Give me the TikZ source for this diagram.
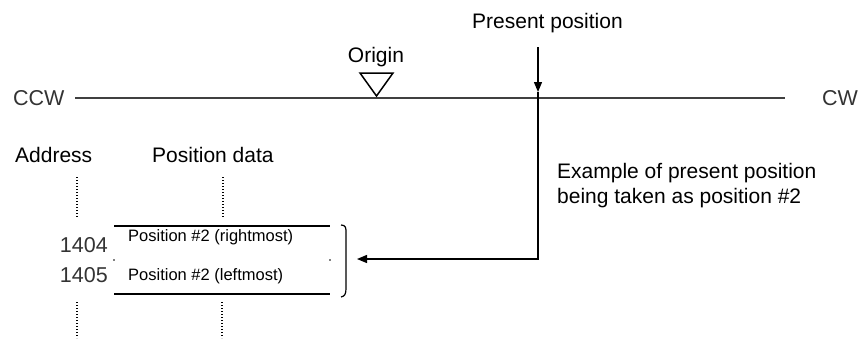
\documentclass[tikz,border=0pt]{standalone}
\usepackage{fontspec}
\setmainfont{Liberation Sans}
\usetikzlibrary{arrows.meta}
\begin{document}
\begin{tikzpicture}[x=1pt,y=-1pt,
  lbl/.style={inner sep=0pt, font=\fontsize{21}{25}\selectfont},
  thinlbl/.style={inner sep=0pt, font=\fontsize{21.5}{25}\selectfont, text=black!80},
  smalllbl/.style={inner sep=0pt, font=\fontsize{16.5}{20}\selectfont},
  axis/.style={line width=1.2pt, draw=black!75},
  tablerule/.style={line width=1.4pt},
  dotline/.style={line width=2pt, dash pattern=on 1.4pt off 1.6pt},
  conn/.style={line width=1.3pt},
  tip/.style={-{Triangle[length=10pt,width=8pt]}}
]
\useasboundingbox (0,0) rectangle (861,341);
% axis
\node[thinlbl, anchor=base west] (ccw) at (13,105) {CCW};
\node[thinlbl, anchor=base west] (cw) at (822,105) {CW};
\coordinate (axL) at (75,98);
\coordinate (axR) at (785,98);
\draw[axis] (axL) -- (axR);
% origin
\node[lbl, anchor=base] (origin) at (376,62) {Origin};
\draw[line width=1.5pt, line join=miter] (360,73) -- (393,73) -- (376.5,96) -- cycle;
% present position
\node[lbl, anchor=base west] (pp) at (472,28) {Present position};
\coordinate (ppTop) at (538,47);
\coordinate (ppTip) at (538,92);
\coordinate (corner) at (538,259);
\coordinate (arrTip) at (357,259);
\draw[conn, tip] (ppTop) -- (ppTip);
\draw[conn, tip] (ppTip) -- (corner) -- (arrTip);
% example text
\node[lbl, anchor=base west] (ex1) at (557,178) {Example of present position};
\node[lbl, anchor=base west] (ex2) at (557,203) {being taken as position \#2};
% table headings
\node[lbl, anchor=base west] (addr) at (15,162) {Address};
\node[lbl, anchor=base west] (pdata) at (152,162) {Position data};
\draw[dotline] (77,177) -- (77,218);
\draw[dotline] (223,177) -- (223,218);
\draw[dotline] (77,302) -- (77,338);
\draw[dotline] (222,302) -- (222,338);
% table
\draw[tablerule] (114,226) -- (330,226);
\draw[tablerule] (114,294) -- (330,294);
\fill (114,260) circle (0.8);
\fill (330,260) circle (0.8);
\node[smalllbl, anchor=base west] (r1) at (128,241) {Position \#2 (rightmost)};
\node[smalllbl, anchor=base west] (r2) at (128,280) {Position \#2 (leftmost)};
\node[thinlbl, anchor=base east] (a1) at (108,252) {1404};
\node[thinlbl, anchor=base east] (a2) at (108,282) {1405};
% bracket
\draw[line width=1.2pt] (341,225) .. controls (346,225) and (346,228) .. (346,233) -- (346,288) .. controls (346,294) and (345,296) .. (341,297);
\end{tikzpicture}
\end{document}
